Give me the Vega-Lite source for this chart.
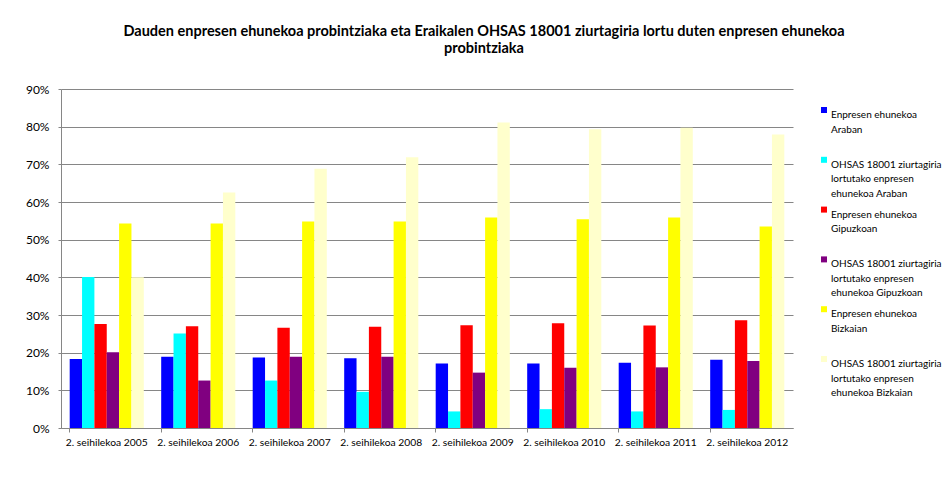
{
  "$schema": "https://vega.github.io/schema/vega-lite/v6.json",
  "width": 732,
  "height": 339,
  "autosize": {"type": "none"},
  "padding": {"left": 61, "top": 89, "right": 152, "bottom": 65},
  "background": "white",
  "title": {
    "text": ["Dauden enpresen ehunekoa probintziaka eta Eraikalen OHSAS 18001 ziurtagiria lortu duten enpresen ehunekoa", "probintziaka"],
    "font": "Lato",
    "fontSize": 14.5,
    "fontWeight": "bold",
    "color": "#000000",
    "anchor": "middle",
    "frame": "group",
    "dx": 57,
    "offset": 27,
    "lineHeight": 17
  },
  "data": {
    "values": [
      {"period": "2. seihilekoa 2005", "series": "Enpresen ehunekoa Araban", "value": 0.183},
      {"period": "2. seihilekoa 2005", "series": "OHSAS 18001 ziurtagiria lortutako enpresen ehunekoa Araban", "value": 0.401},
      {"period": "2. seihilekoa 2005", "series": "Enpresen ehunekoa Gipuzkoan", "value": 0.276},
      {"period": "2. seihilekoa 2005", "series": "OHSAS 18001 ziurtagiria lortutako enpresen ehunekoa Gipuzkoan", "value": 0.201},
      {"period": "2. seihilekoa 2005", "series": "Enpresen ehunekoa Bizkaian", "value": 0.543},
      {"period": "2. seihilekoa 2005", "series": "OHSAS 18001 ziurtagiria lortutako enpresen ehunekoa Bizkaian", "value": 0.400},
      {"period": "2. seihilekoa 2006", "series": "Enpresen ehunekoa Araban", "value": 0.189},
      {"period": "2. seihilekoa 2006", "series": "OHSAS 18001 ziurtagiria lortutako enpresen ehunekoa Araban", "value": 0.251},
      {"period": "2. seihilekoa 2006", "series": "Enpresen ehunekoa Gipuzkoan", "value": 0.270},
      {"period": "2. seihilekoa 2006", "series": "OHSAS 18001 ziurtagiria lortutako enpresen ehunekoa Gipuzkoan", "value": 0.126},
      {"period": "2. seihilekoa 2006", "series": "Enpresen ehunekoa Bizkaian", "value": 0.543},
      {"period": "2. seihilekoa 2006", "series": "OHSAS 18001 ziurtagiria lortutako enpresen ehunekoa Bizkaian", "value": 0.625},
      {"period": "2. seihilekoa 2007", "series": "Enpresen ehunekoa Araban", "value": 0.187},
      {"period": "2. seihilekoa 2007", "series": "OHSAS 18001 ziurtagiria lortutako enpresen ehunekoa Araban", "value": 0.126},
      {"period": "2. seihilekoa 2007", "series": "Enpresen ehunekoa Gipuzkoan", "value": 0.266},
      {"period": "2. seihilekoa 2007", "series": "OHSAS 18001 ziurtagiria lortutako enpresen ehunekoa Gipuzkoan", "value": 0.189},
      {"period": "2. seihilekoa 2007", "series": "Enpresen ehunekoa Bizkaian", "value": 0.548},
      {"period": "2. seihilekoa 2007", "series": "OHSAS 18001 ziurtagiria lortutako enpresen ehunekoa Bizkaian", "value": 0.688},
      {"period": "2. seihilekoa 2008", "series": "Enpresen ehunekoa Araban", "value": 0.185},
      {"period": "2. seihilekoa 2008", "series": "OHSAS 18001 ziurtagiria lortutako enpresen ehunekoa Araban", "value": 0.096},
      {"period": "2. seihilekoa 2008", "series": "Enpresen ehunekoa Gipuzkoan", "value": 0.269},
      {"period": "2. seihilekoa 2008", "series": "OHSAS 18001 ziurtagiria lortutako enpresen ehunekoa Gipuzkoan", "value": 0.189},
      {"period": "2. seihilekoa 2008", "series": "Enpresen ehunekoa Bizkaian", "value": 0.548},
      {"period": "2. seihilekoa 2008", "series": "OHSAS 18001 ziurtagiria lortutako enpresen ehunekoa Bizkaian", "value": 0.719},
      {"period": "2. seihilekoa 2009", "series": "Enpresen ehunekoa Araban", "value": 0.171},
      {"period": "2. seihilekoa 2009", "series": "OHSAS 18001 ziurtagiria lortutako enpresen ehunekoa Araban", "value": 0.044},
      {"period": "2. seihilekoa 2009", "series": "Enpresen ehunekoa Gipuzkoan", "value": 0.273},
      {"period": "2. seihilekoa 2009", "series": "OHSAS 18001 ziurtagiria lortutako enpresen ehunekoa Gipuzkoan", "value": 0.147},
      {"period": "2. seihilekoa 2009", "series": "Enpresen ehunekoa Bizkaian", "value": 0.559},
      {"period": "2. seihilekoa 2009", "series": "OHSAS 18001 ziurtagiria lortutako enpresen ehunekoa Bizkaian", "value": 0.811},
      {"period": "2. seihilekoa 2010", "series": "Enpresen ehunekoa Araban", "value": 0.171},
      {"period": "2. seihilekoa 2010", "series": "OHSAS 18001 ziurtagiria lortutako enpresen ehunekoa Araban", "value": 0.050},
      {"period": "2. seihilekoa 2010", "series": "Enpresen ehunekoa Gipuzkoan", "value": 0.278},
      {"period": "2. seihilekoa 2010", "series": "OHSAS 18001 ziurtagiria lortutako enpresen ehunekoa Gipuzkoan", "value": 0.160},
      {"period": "2. seihilekoa 2010", "series": "Enpresen ehunekoa Bizkaian", "value": 0.554},
      {"period": "2. seihilekoa 2010", "series": "OHSAS 18001 ziurtagiria lortutako enpresen ehunekoa Bizkaian", "value": 0.793},
      {"period": "2. seihilekoa 2011", "series": "Enpresen ehunekoa Araban", "value": 0.173},
      {"period": "2. seihilekoa 2011", "series": "OHSAS 18001 ziurtagiria lortutako enpresen ehunekoa Araban", "value": 0.044},
      {"period": "2. seihilekoa 2011", "series": "Enpresen ehunekoa Gipuzkoan", "value": 0.272},
      {"period": "2. seihilekoa 2011", "series": "OHSAS 18001 ziurtagiria lortutako enpresen ehunekoa Gipuzkoan", "value": 0.161},
      {"period": "2. seihilekoa 2011", "series": "Enpresen ehunekoa Bizkaian", "value": 0.559},
      {"period": "2. seihilekoa 2011", "series": "OHSAS 18001 ziurtagiria lortutako enpresen ehunekoa Bizkaian", "value": 0.797},
      {"period": "2. seihilekoa 2012", "series": "Enpresen ehunekoa Araban", "value": 0.181},
      {"period": "2. seihilekoa 2012", "series": "OHSAS 18001 ziurtagiria lortutako enpresen ehunekoa Araban", "value": 0.048},
      {"period": "2. seihilekoa 2012", "series": "Enpresen ehunekoa Gipuzkoan", "value": 0.286},
      {"period": "2. seihilekoa 2012", "series": "OHSAS 18001 ziurtagiria lortutako enpresen ehunekoa Gipuzkoan", "value": 0.178},
      {"period": "2. seihilekoa 2012", "series": "Enpresen ehunekoa Bizkaian", "value": 0.535},
      {"period": "2. seihilekoa 2012", "series": "OHSAS 18001 ziurtagiria lortutako enpresen ehunekoa Bizkaian", "value": 0.779}
    ]
  },
  "mark": {"type": "bar"},
  "encoding": {
    "x": {
      "field": "period",
      "type": "nominal",
      "title": null,
      "scale": {"paddingInner": 0.19, "paddingOuter": 0.095},
      "axis": {
        "labelAngle": 0,
        "bandPosition": 0,
        "labelFont": "Lato",
        "labelFontSize": 10.3,
        "labelColor": "#000000",
        "labelPadding": 5,
        "tickSize": 4,
        "tickColor": "#868686",
        "domainColor": "#868686",
        "grid": false
      }
    },
    "xOffset": {
      "field": "series",
      "type": "nominal",
      "sort": [
        "Enpresen ehunekoa Araban",
        "OHSAS 18001 ziurtagiria lortutako enpresen ehunekoa Araban",
        "Enpresen ehunekoa Gipuzkoan",
        "OHSAS 18001 ziurtagiria lortutako enpresen ehunekoa Gipuzkoan",
        "Enpresen ehunekoa Bizkaian",
        "OHSAS 18001 ziurtagiria lortutako enpresen ehunekoa Bizkaian"
      ],
      "scale": {"paddingInner": 0, "paddingOuter": 0}
    },
    "y": {
      "field": "value",
      "type": "quantitative",
      "title": null,
      "scale": {"domain": [0, 0.9], "nice": false},
      "axis": {
        "values": [0, 0.1, 0.2, 0.3, 0.4, 0.5, 0.6, 0.7, 0.8, 0.9],
        "format": ".0%",
        "labelFont": "Lato",
        "labelFontSize": 12,
        "labelColor": "#000000",
        "labelPadding": 9,
        "tickSize": 3,
        "tickColor": "#868686",
        "domainColor": "#868686",
        "gridColor": "#868686",
        "gridWidth": 1
      }
    },
    "color": {
      "field": "series",
      "type": "nominal",
      "title": null,
      "scale": {
        "domain": [
          "Enpresen ehunekoa Araban",
          "OHSAS 18001 ziurtagiria lortutako enpresen ehunekoa Araban",
          "Enpresen ehunekoa Gipuzkoan",
          "OHSAS 18001 ziurtagiria lortutako enpresen ehunekoa Gipuzkoan",
          "Enpresen ehunekoa Bizkaian",
          "OHSAS 18001 ziurtagiria lortutako enpresen ehunekoa Bizkaian"
        ],
        "range": ["#0000FF", "#00FFFF", "#FF0000", "#800080", "#FFFF00", "#FFFFCC"]
      },
      "legend": {
        "orient": "none",
        "legendX": 758,
        "legendY": 16,
        "symbolType": "square",
        "symbolSize": 36,
        "symbolStrokeWidth": 0,
        "labelFont": "Lato",
        "labelFontSize": 10,
        "labelColor": "#000000",
        "labelLimit": 200,
        "labelOffset": 2,
        "labelBaseline": "top",
        "rowPadding": 5.8,
        "labelExpr": "indexof(datum.label, 'OHSAS') == 0 ? ['OHSAS 18001 ziurtagiria', 'lortutako enpresen', replace(datum.label, 'OHSAS 18001 ziurtagiria lortutako enpresen ', '')] : ['Enpresen ehunekoa', replace(datum.label, 'Enpresen ehunekoa ', ''), ' ']",
        "encode": {"labels": {"update": {"lineHeight": {"value": 14.5}}}}
      }
    }
  },
  "config": {
    "view": {"stroke": null},
    "axis": {"domainWidth": 1}
  }
}
